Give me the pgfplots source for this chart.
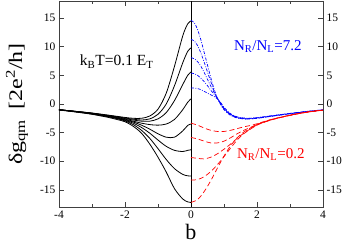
\documentclass[border=0pt]{standalone}
\usepackage{pgfplots}
\pgfplotsset{compat=1.18}
\usepackage{fontspec}
\setmainfont{Liberation Serif}
\definecolor{bl}{RGB}{0,0,255}
\definecolor{rd}{RGB}{255,0,0}
\begin{document}
\begin{tikzpicture}
\begin{axis}[
  at={(0,0)}, anchor=south west,
  scale only axis, width=264pt, height=206pt,
  xmin=-4, xmax=4, ymin=-18, ymax=18,
  xtick={-4,-2,0,2,4}, minor xtick={-3,-1,1,3},
  ytick={-15,-10,-5,0,5,10,15},
  tick align=inside,
  major tick length=5pt, minor tick length=3pt,
  axis line style={black!75, line width=0.8pt},
  every tick/.style={black!75, line width=0.6pt},
  yticklabel pos=left,
  extra y ticks={-15,-10,-5,0,5,10,15},
  extra y tick style={yticklabel pos=right, major tick length=0pt},
  /pgf/number format/assume math mode=true,
  ticklabel style={font=\fontsize{11.5}{11.5}\selectfont},
  xlabel={\fontsize{22}{22}\selectfont b},
  xlabel style={at={(axis description cs:0.5,0)}, anchor=north, yshift=-14pt},
  ylabel={\scalebox{1}[0.8]{\fontsize{24}{24}\selectfont δg\textsubscript{qm}\, [2e\textsuperscript{2}/h]}},
  ylabel style={at={(axis description cs:-0.159,0.5)}, anchor=center},
  every axis plot/.append style={smooth, line width=0.8pt},
]
% black curves b<0
\addplot[black] coordinates {(-4,-1.0)(-3.5,-1.28)(-3,-1.58)(-2.5,-1.95)(-2.25,-2.15)(-2,-2.35)(-1.75,-2.5)(-1.5,-2.5)(-1.25,-2.1)(-1,-0.9)(-0.75,1.9)(-0.5,6.6)(-0.25,11.9)(-0.1,14.0)(0,14.5)};
\addplot[black] coordinates {(-4,-1.0)(-3.5,-1.29)(-3,-1.6)(-2.5,-2.0)(-2.25,-2.22)(-2,-2.45)(-1.75,-2.65)(-1.5,-2.8)(-1.25,-2.6)(-1,-1.8)(-0.75,0.0)(-0.5,3.2)(-0.25,7.2)(-0.1,9.2)(0,9.8)};
\addplot[black] coordinates {(-4,-1.0)(-3.5,-1.3)(-3,-1.62)(-2.5,-2.05)(-2.25,-2.3)(-2,-2.55)(-1.75,-2.8)(-1.5,-3.0)(-1.25,-3.0)(-1,-2.6)(-0.75,-1.5)(-0.5,0.6)(-0.25,3.4)(-0.1,5.0)(0,5.6)};
\addplot[black] coordinates {(-4,-1.0)(-3.5,-1.31)(-3,-1.65)(-2.5,-2.1)(-2.25,-2.37)(-2,-2.65)(-1.75,-3.0)(-1.5,-3.35)(-1.25,-3.6)(-1,-3.7)(-0.75,-3.5)(-0.5,-2.7)(-0.25,-1.0)(-0.1,0.3)(0,0.9)};
\addplot[black] coordinates {(-4,-1.0)(-3.5,-1.32)(-3,-1.68)(-2.5,-2.15)(-2.25,-2.45)(-2,-2.75)(-1.75,-3.15)(-1.5,-3.7)(-1.25,-4.4)(-1,-5.2)(-0.75,-5.8)(-0.5,-5.8)(-0.25,-4.7)(-0.1,-3.75)(0,-3.5)};
\addplot[black] coordinates {(-4,-1.0)(-3.5,-1.34)(-3,-1.7)(-2.5,-2.2)(-2.25,-2.5)(-2,-2.85)(-1.75,-3.35)(-1.5,-4.1)(-1.25,-5.1)(-1,-6.3)(-0.75,-7.4)(-0.5,-8.1)(-0.25,-8.3)(-0.1,-8.1)(0,-8.0)};
\addplot[black] coordinates {(-4,-1.02)(-3.5,-1.36)(-3,-1.75)(-2.5,-2.25)(-2.25,-2.55)(-2,-2.95)(-1.75,-3.6)(-1.5,-4.6)(-1.25,-6.0)(-1,-7.8)(-0.75,-9.7)(-0.5,-11.3)(-0.25,-12.3)(-0.1,-12.55)(0,-12.6)};
\addplot[black] coordinates {(-4,-1.05)(-3.5,-1.4)(-3,-1.8)(-2.5,-2.35)(-2.25,-2.7)(-2,-3.1)(-1.75,-3.9)(-1.5,-5.1)(-1.25,-7.0)(-1,-9.3)(-0.75,-11.9)(-0.5,-14.8)(-0.25,-16.6)(-0.1,-17.1)(0,-17.2)};
% vertical line at b=0
\addplot[black, sharp plot, line width=0.6pt] coordinates {(0,-18)(0,18)};
% blue dash-dot curves
\pgfplotsset{bdash/.style={bl, line width=0.7pt, dash pattern=on 3pt off 1.5pt on 0.8pt off 1.5pt}}
\addplot[bdash] coordinates {(0,14.6)(0.1,14.2)(0.2,13.0)(0.3,11.2)(0.4,9.0)(0.5,6.8)(0.6,4.6)(0.7,2.6)(0.8,1.0)(0.9,-0.1)(1.0,-1.0)(1.2,-2.0)(1.4,-2.45)(1.6,-2.6)(1.8,-2.6)(2.0,-2.5)(2.5,-2.1)(3.0,-1.7)(3.5,-1.35)(4.0,-1.05)};
\addplot[bdash] coordinates {(0,11.3)(0.1,11.0)(0.2,10.2)(0.3,8.9)(0.4,7.3)(0.5,5.6)(0.6,3.9)(0.7,2.3)(0.8,1.0)(0.9,0.0)(1.0,-0.9)(1.2,-1.9)(1.4,-2.4)(1.6,-2.6)(1.8,-2.6)(2.0,-2.5)(2.5,-2.1)(3.0,-1.7)(3.5,-1.35)(4.0,-1.05)};
\addplot[bdash] coordinates {(0,8.1)(0.1,7.9)(0.2,7.4)(0.3,6.6)(0.4,5.5)(0.5,4.3)(0.6,3.1)(0.7,2.0)(0.8,1.0)(0.9,0.05)(1.0,-0.8)(1.2,-1.85)(1.4,-2.35)(1.6,-2.55)(1.8,-2.55)(2.0,-2.45)(2.5,-2.05)(3.0,-1.68)(3.5,-1.33)(4.0,-1.03)};
\addplot[bdash] coordinates {(0,5.4)(0.1,5.3)(0.2,5.0)(0.3,4.5)(0.4,3.9)(0.5,3.2)(0.6,2.4)(0.7,1.7)(0.8,1.0)(0.9,0.15)(1.0,-0.7)(1.2,-1.8)(1.4,-2.3)(1.6,-2.5)(1.8,-2.5)(2.0,-2.4)(2.5,-2.05)(3.0,-1.66)(3.5,-1.32)(4.0,-1.02)};
\addplot[bdash] coordinates {(0,2.8)(0.1,2.8)(0.2,2.7)(0.3,2.5)(0.4,2.2)(0.5,1.9)(0.6,1.6)(0.7,1.3)(0.8,0.9)(0.9,0.25)(1.0,-0.55)(1.2,-1.7)(1.4,-2.25)(1.6,-2.45)(1.8,-2.48)(2.0,-2.4)(2.5,-2.0)(3.0,-1.64)(3.5,-1.3)(4.0,-1.0)};
% red dashed curves
\pgfplotsset{rdash/.style={rd, line width=0.7pt, dash pattern=on 5pt off 3pt}}
\addplot[rdash] coordinates {(0,-3.35)(0.2,-3.7)(0.4,-4.2)(0.6,-4.6)(0.8,-4.8)(1.0,-4.8)(1.2,-4.6)(1.4,-4.3)(1.6,-4.0)(1.8,-3.75)(2.0,-3.45)(2.25,-3.0)(2.5,-2.6)(3.0,-1.95)(3.5,-1.42)(4.0,-1.05)};
\addplot[rdash] coordinates {(0,-5.85)(0.2,-6.1)(0.4,-6.5)(0.6,-6.8)(0.8,-6.8)(1.0,-6.5)(1.2,-5.9)(1.4,-5.2)(1.6,-4.6)(1.8,-4.1)(2.0,-3.55)(2.25,-3.05)(2.5,-2.62)(3.0,-1.96)(3.5,-1.43)(4.0,-1.06)};
\addplot[rdash] coordinates {(0,-9.35)(0.2,-9.5)(0.4,-9.6)(0.6,-9.3)(0.8,-8.7)(1.0,-7.9)(1.2,-7.0)(1.4,-6.0)(1.6,-5.1)(1.8,-4.35)(2.0,-3.65)(2.25,-3.1)(2.5,-2.65)(3.0,-1.97)(3.5,-1.44)(4.0,-1.07)};
\addplot[rdash] coordinates {(0,-13.3)(0.2,-13.2)(0.4,-12.7)(0.6,-11.8)(0.8,-10.6)(1.0,-9.2)(1.2,-7.7)(1.4,-6.3)(1.6,-5.2)(1.8,-4.4)(2.0,-3.7)(2.25,-3.12)(2.5,-2.66)(3.0,-1.98)(3.5,-1.45)(4.0,-1.08)};
\addplot[rdash] coordinates {(0,-17.2)(0.2,-16.7)(0.4,-15.3)(0.6,-13.4)(0.8,-11.2)(1.0,-9.1)(1.2,-7.3)(1.4,-5.9)(1.6,-4.9)(1.8,-4.2)(2.0,-3.6)(2.25,-3.1)(2.5,-2.66)(3.0,-1.98)(3.5,-1.45)(4.0,-1.08)};
% labels
\node[font=\fontsize{15.5}{15.5}\selectfont] at (axis cs:-2.25,7.4) {k\textsubscript{B}T=0.1 E\textsubscript{T}};
\node[font=\fontsize{15}{15}\selectfont, text=bl] at (axis cs:2.33,10.0) {N\textsubscript{R}/N\textsubscript{L}=7.2};
\node[font=\fontsize{15}{15}\selectfont, text=rd] at (axis cs:2.42,-8.9) {N\textsubscript{R}/N\textsubscript{L}=0.2};
\end{axis}
\pgfresetboundingbox
\path[use as bounding box] (-59pt,-38pt) rectangle (284pt,207pt);
\end{tikzpicture}
\end{document}
